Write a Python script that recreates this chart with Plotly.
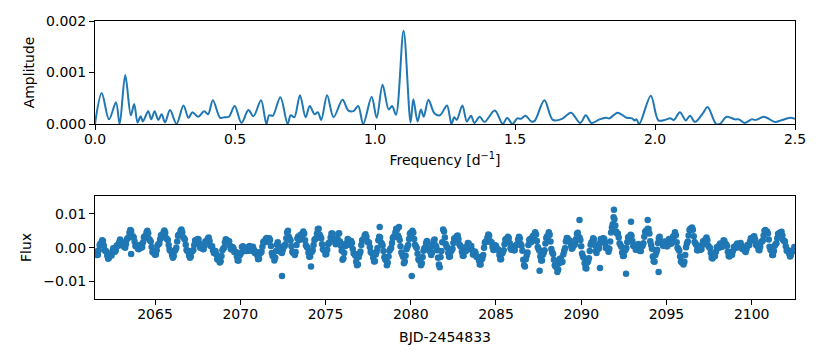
import numpy as np
import plotly.graph_objects as go

# ---------------- periodogram (frequency in 1/d, amplitude) ----------------
freq = [0.000, 0.024, 0.050, 0.075, 0.088, 0.108, 0.128, 0.140, 0.152, 0.163,
        0.171, 0.190, 0.201, 0.213, 0.226, 0.238, 0.250, 0.268, 0.291, 0.316,
        0.334, 0.348, 0.368, 0.390, 0.404, 0.421, 0.447, 0.462, 0.478, 0.499,
        0.523, 0.548, 0.566, 0.593, 0.612, 0.622, 0.635, 0.662, 0.688, 0.699,
        0.712, 0.732, 0.752, 0.767, 0.784, 0.796, 0.808, 0.829, 0.852, 0.884,
        0.905, 0.923, 0.940, 0.958, 0.988, 1.006, 1.027, 1.049, 1.061, 1.075,
        1.102, 1.127, 1.137, 1.152, 1.164, 1.174, 1.191, 1.212, 1.232, 1.257,
        1.273, 1.283, 1.292, 1.312, 1.328, 1.343, 1.355, 1.374, 1.391, 1.428,
        1.456, 1.472, 1.491, 1.508, 1.520, 1.538, 1.558, 1.570, 1.605, 1.635,
        1.668, 1.700, 1.733, 1.753, 1.773, 1.802, 1.825, 1.838, 1.866, 1.899,
        1.918, 1.927, 1.934, 1.944, 1.985, 2.012, 2.036, 2.054, 2.068, 2.089,
        2.110, 2.125, 2.143, 2.170, 2.188, 2.218, 2.232, 2.256, 2.286, 2.300,
        2.320, 2.345, 2.360, 2.389, 2.429, 2.450, 2.482, 2.500]
amplitude = [0.0, 0.00060, 0.00009, 0.00042, 0.0, 0.00095, 0.00017, 0.00039, 0.00003, 0.00015,
             0.00005, 0.00025, 0.00009, 0.00025, 0.00008, 0.00019, 0.00003, 0.00027, 0.0, 0.00036,
             0.00012, 0.00023, 0.00014, 0.00025, 0.00019, 0.00046, 0.00012, 0.00013, 0.00014, 0.00035,
             0.00002, 0.00027, 0.00015, 0.00046, 0.0, 0.00017, 0.00016, 0.00052, 0.0, 0.00017,
             0.00013, 0.00056, 0.00013, 0.00035, 0.00019, 0.00023, 0.00008, 0.00056, 0.00013, 0.00047,
             0.00026, 0.00025, 0.00035, 0.0, 0.00053, 0.00012, 0.00076, 0.00028, 0.00035, 0.00018,
             0.00181, 0.00003, 0.00048, 0.00005, 0.00028, 0.00014, 0.00047, 0.00021, 0.00017, 0.00036,
             0.0, 0.00013, 0.00008, 0.00036, 0.00005, 0.00016, 0.00002, 0.00014, 0.00004, 0.00026,
             0.0, 0.00012, 0.0, 0.00011, 0.00010, 0.00016, 0.00005, 0.00006, 0.00046, 0.00008,
             0.00010, 0.00022, 0.00002, 0.00017, 0.00002, 0.00009, 0.00012, 0.00011, 0.00022, 0.00012,
             0.00011, 0.00007, 0.00009, 0.0, 0.00055, 0.00007, 0.00008, 0.00011, 0.00008, 0.00023,
             0.00007, 0.00016, 0.00004, 0.00020, 0.00033, 0.0, 0.0, 0.00014, 0.00009, 0.00009,
             0.00002, 0.00009, 0.00008, 0.00014, 0.00004, 0.00007, 0.00012, 0.00010]

# ---------------- light curve (flux in units of 1e-3) ----------------
# series 1 sampled every 0.1 d from t_start; series 2 sampled every 0.1 d from t_start + 0.05
t_start = 2061.5
cadence = 0.1
half_offset = 0.05

flux_a = [-1.5, -2.2, -0.8, 1.2, 2.2, 0.6, -1.0, -2.4, -3.0, -2.2,
          -1.2, -0.3, -0.8, 0.8, 1.6, 1.9, 0.9, 0.2, 1.1, 2.8,
          4.4, 4.9, 3.3, 1.8, 0.4, -0.3, 0.5, 0.0, 1.6, 3.4,
          4.5, 4.3, 2.2, 0.2, -1.5, -2.1, -0.8, 1.0, 2.5, 3.7,
          4.6, 4.4, 2.6, 0.8, -0.9, -2.2, -2.5, -0.6, 1.8, 3.9]
flux_b = [5.0, 4.6, 2.8, 0.9, -1.0, -2.3, -2.6, -1.0, 0.8, 2.2,
          2.6, 1.2, 0.0, -0.4, 0.6, 1.8, 2.7, 2.0, 0.4, -0.8,
          -1.2, -2.0, -3.6, -4.4, -2.5, -0.3, 1.5, 2.3, 1.9, 0.6,
          -0.5, -0.2, -1.3, -2.6, -3.8, -2.0, 0.2, -0.6, -0.2, -1.0,
          0.3, -0.5, -0.1, -0.6, -1.4, -2.4, -3.3, -1.4, 0.3, 1.9]
flux_c = [2.6, 2.0, 2.8, 0.5, -2.5, -3.8, -1.0, 1.6, 0.2, -1.4,
          -0.6, 0.4, 2.8, 5.0, 2.6, 0.4, -1.6, -2.2, 0.8, 3.3,
          2.4, 4.0, 4.8, 2.2, 0.3, -1.5, -2.6, -1.2, 0.8, 2.6,
          4.2, 5.6, 3.4, 1.0, -0.8, -2.0, -0.6, 1.4, 3.0, 4.2,
          2.4, 1.0, 2.8, 4.3, 0.6, -3.6, -1.6, 1.2, 2.6, 0.9]
flux_d = [2.0, -0.4, -1.8, -4.2, -5.0, -1.8, 0.8, 2.4, 3.6, 3.2,
          1.6, 0.2, -1.5, -3.0, -4.0, -1.2, 2.2, 3.0, 1.2, -1.0,
          -3.4, -5.2, -2.6, -0.4, 1.4, 3.2, 4.6, 5.4, 3.0, 0.4,
          -2.0, -4.6, -2.4, 0.2, 2.6, 4.4, 5.0, 2.6, 0.4, -1.8,
          -3.8, -5.2, -2.8, -0.2, 1.4, 1.4, -1.0, -2.2, 0.6, 2.4]
flux_e = [0.2, -3.0, -5.8, -1.0, 5.4, 3.0, 0.4, -1.6, -2.6, -0.8,
          1.4, 2.8, 3.4, 2.6, 0.6, -1.2, -2.4, -1.0, 0.4, 1.2,
          0.6, -0.8, -2.0, -1.4, -2.8, -3.8, -5.0, -3.2, 0.0, 1.8,
          3.0, 3.6, 1.6, 0.2, -0.4, 0.6, -0.4, -2.2, -3.4, -1.4,
          1.0, 2.6, 3.2, 1.4, -0.6, 0.4, -0.8, 0.8, 2.4, 2.8]
flux_f = [0.6, -3.6, -5.6, -2.4, 0.8, 2.6, 1.8, 3.6, 4.6, 2.0,
          -0.4, -2.6, -3.8, -1.6, 1.2, 3.4, 4.6, 1.8, -1.4, -3.6,
          -5.6, -7.2, -4.6, -3.2, -4.2, -1.0, 1.8, 2.8, 2.2, 0.6,
          0.0, 0.8, 2.6, 4.4, 3.0, 0.4, -2.6, -4.6, -6.2, -4.0,
          -1.0, 1.6, 2.8, 0.8, -1.6, -0.4, 1.4, 2.6, 2.8, 1.2]
flux_g = [-0.2, -1.2, 1.8, 6.0, 9.0, 6.6, 4.2, 3.0, 0.8, -1.4,
          -2.4, -0.6, 1.6, 3.2, 3.8, 2.0, 0.4, -0.6, 0.8, 0.2,
          -1.0, 0.6, 3.2, 5.0, 5.6, 4.2, 0.8, -2.6, -4.2, -1.4,
          1.4, 3.2, 1.6, 0.6, 1.8, 0.4, 1.6, 2.4, 1.2, 3.4,
          4.6, 1.6, -0.4, -2.6, -4.4, -5.0, -2.2, 1.2, 3.6, 5.6]
flux_h = [6.0, 3.4, 1.2, -0.8, 0.4, -0.6, 0.8, 1.8, 2.6, 2.2,
          0.2, -1.6, -3.2, -2.6, -1.2, 0.2, 0.8, 0.4, 1.2, 2.0,
          1.0, -1.2, -2.6, -2.0, -1.0, 0.2, 0.8, 0.4, 1.0, 0.6,
          -0.2, -1.0, -0.4, 0.8, 1.8, 2.6, 3.2, 2.4, 0.6, -0.6,
          0.2, 1.8, 3.6, 5.2, 4.8, 2.4, -0.6, -2.2, -1.0, 1.0,
          2.8, 4.2, 4.6, 3.6, 2.0, 0.4, -1.0, -1.8, -2.2, -1.0, 0.2]

flux2_a = [-1.2, -2.1, 0.8, 1.1, 2.0, -0.8, -1.1, -3.3, -2.0, -2.3,
           -0.2, -1.2, 0.6, 0.6, 2.4, 0.8, 1.2, 0.0, 2.5, 3.0,
           5.2, 3.5, 3.1, 0.5, 0.6, -0.5, 0.9, 0.2, 3.1, 3.4,
           5.0, 2.6, 1.8, -1.3, -1.2, -2.0, 0.7, 1.2, 3.7, 3.6,
           5.1, 2.9, 2.3, -0.6, -1.0, -3.0, -1.0, 0.0, 3.5, 3.8]
flux2_b = [5.4, 3.1, 2.4, -0.7, -1.0, -3.0, -1.2, -0.7, 2.1, 1.8,
           2.5, 0.0, 0.4, -0.5, 1.8, 1.6, 3.0, 0.6, 0.4, -1.6,
           -1.0, -3.4, -3.4, -4.0, -0.8, 0.0, 2.5, 1.5, 1.9, -0.5,
           0.2, -1.3, -1.3, -3.8, -2.3, -1.5, 0.4, -1.0, 0.0, -0.9,
           0.5, -0.9, 0.3, -1.6, -1.3, -3.4, -1.8, -1.2, 1.7, 1.6]
flux2_c = [2.9, 1.8, 2.3, -1.6, -2.6, -3.0, 0.9, 0.3, 0.0, -1.6,
           0.5, 1.0, 4.5, 3.2, 2.1, -1.2, -1.3, -1.3, 2.7, 2.3,
           3.8, 3.8, 4.1, 0.7, 0.0, -2.7, -1.3, -0.8, 2.3, 2.8,
           5.5, 3.9, 2.8, -0.5, -0.8, -1.9, 1.0, 1.6, 4.2, 2.7,
           2.3, 1.3, 4.1, 1.8, -0.9, -3.2, 0.4, 1.3, 2.3, 0.8]
flux2_d = [1.4, -1.7, -2.4, -5.2, -2.8, -1.1, 2.2, 2.4, 4.0, 1.8,
           1.5, -1.3, -1.7, -4.1, -2.0, -0.1, 3.2, 1.5, 0.7, -2.8,
           -3.7, -4.5, -0.9, -0.1, 2.9, 3.3, 5.6, 3.6, 2.3, -1.4,
           -2.7, -4.1, -0.5, 0.8, 4.1, 4.1, 4.4, 0.9, -0.1, -3.4,
           -3.9, -4.6, -0.9, 0.0, 2.0, -0.4, -1.0, -1.4, 2.1, 0.7]
flux2_e = [-0.8, -5.0, -2.8, 1.6, 4.8, 1.1, 0.0, -2.7, -1.1, -0.3,
           2.7, 2.5, 3.6, 1.0, 0.3, -2.4, -1.1, -0.9, 1.4, 0.3,
           0.5, -2.0, -1.1, -2.7, -2.7, -5.0, -3.5, -2.2, 1.5, 1.8,
           3.9, 2.0, 1.5, -0.7, 0.7, -0.5, -0.7, -3.4, -1.8, -0.8,
           2.4, 2.3, 2.9, -0.2, 0.5, -0.8, 0.6, 1.0, 3.2, 1.1]
flux2_f = [-0.9, -5.2, -3.4, -1.4, 2.3, 1.6, 3.3, 3.5, 3.9, 0.2,
           -0.9, -3.8, -2.1, -0.8, 2.9, 3.4, 3.8, -0.4, -1.9, -5.2,
           -5.8, -6.5, -3.3, -4.3, -2.0, -0.2, 2.9, 1.9, 2.0, -0.3,
           1.0, 1.1, 4.1, 3.1, 2.3, -1.7, -3.0, -6.0, -4.5, -3.1,
           0.9, 1.6, 2.4, -1.0, -0.4, -0.1, 2.6, 2.1, 2.6, -0.1]
flux2_g = [-0.1, -0.3, 4.5, 6.9, 8.4, 4.8, 4.2, 1.3, 0.3, -2.5,
           -0.9, -0.1, 3.0, 2.9, 3.5, 0.6, 0.5, -0.5, 1.1, -1.0,
           0.4, 1.3, 4.7, 4.7, 5.5, 1.9, -0.3, -4.0, -2.2, -0.6,
           2.9, 1.8, 1.7, 0.6, 1.7, 0.4, 2.6, 1.2, 2.9, 3.4,
           3.7, 0.0, -0.9, -4.1, -4.1, -4.2, 0.1, 1.8, 5.2, 5.2]
flux2_h = [5.3, 1.7, 0.8, -0.8, 0.5, -0.5, 1.9, 1.6, 3.0, 0.6,
           -0.1, -3.0, -2.3, -2.5, 0.1, -0.1, 1.2, 0.2, 2.2, 0.9,
           0.5, -2.5, -1.7, -2.1, 0.2, -0.1, 1.2, 0.1, 1.4, -0.4,
           0.0, -1.3, 0.8, 0.7, 2.8, 2.3, 3.4, 0.9, 0.6, -0.8,
           1.6, 2.1, 5.0, 4.4, 4.2, 0.3, -0.8, -2.2, 0.6, 1.3,
           4.1, 3.8, 4.7, 2.2, 1.8, -0.9, -0.8, -2.6, -1.0, -1.0]

# isolated points (time, flux in 1e-3)
outlier_time = [2063.60, 2072.45, 2074.15, 2078.18, 2079.31, 2080.06, 2087.56,
                2089.90, 2091.10, 2091.92, 2092.63, 2092.92, 2093.90, 2094.54]
outlier_flux = [-1.9, -8.4, -5.6, 6.1, 6.1, -8.4, -6.8,
                8.2, -6.0, 11.2, -7.7, 7.7, 8.2, -7.2]

freq_ticks = [0.0, 0.5, 1.0, 1.5, 2.0, 2.5]
amp_ticks = [0.000, 0.001, 0.002]
time_ticks = [2065, 2070, 2075, 2080, 2085, 2090, 2095, 2100]
flux_ticks = [-0.01, 0.0, 0.01]
flux_tick_labels = ["\u22120.01", "0.00", "0.01"]

# ---------------- build ----------------
flux1 = np.array(flux_a + flux_b + flux_c + flux_d + flux_e + flux_f + flux_g + flux_h) * 1e-3
time1 = t_start + cadence * np.arange(len(flux1))
flux2 = np.array(flux2_a + flux2_b + flux2_c + flux2_d + flux2_e + flux2_f + flux2_g + flux2_h) * 1e-3
time2 = t_start + half_offset + cadence * np.arange(len(flux2))
time_pts = np.concatenate([time1, time2, np.array(outlier_time)])
flux_pts = np.concatenate([flux1, flux2, np.array(outlier_flux) * 1e-3])
order = np.argsort(time_pts)
time_pts, flux_pts = time_pts[order], flux_pts[order]

BLUE = "#1f77b4"
FONT = "DejaVu Sans"
FS = 14

fig = go.Figure()
fig.add_trace(go.Scatter(x=freq, y=amplitude, mode="lines",
                         line=dict(color=BLUE, width=2, shape="spline", smoothing=0.9),
                         xaxis="x", yaxis="y", showlegend=False, hoverinfo="skip"))
fig.add_trace(go.Scatter(x=time_pts, y=flux_pts, mode="markers",
                         marker=dict(color=BLUE, size=6.5, line=dict(width=0)),
                         xaxis="x2", yaxis="y2", showlegend=False, hoverinfo="skip"))

# the page body adds an 8px margin, so the figure is drawn 8px smaller/offset
W, H = 814, 352
ML, MR, MT, MB = 87, 27, 13, 61
PH = H - MT - MB  # 278
axis_common = dict(showline=True, mirror=True, linecolor="black", linewidth=1, ticks="outside",
                   ticklen=5, tickwidth=1, tickcolor="black", showgrid=False, zeroline=False,
                   automargin=False, tickfont=dict(family=FONT, size=FS, color="black"))
title_font = dict(family=FONT, size=FS, color="black")

fig.update_layout(
    width=W, height=H, margin=dict(l=ML, r=MR, t=MT, b=MB, autoexpand=False),
    paper_bgcolor="white", plot_bgcolor="white",
    font=dict(family=FONT, size=FS, color="black"),
    xaxis=dict(domain=[0, 1], range=[0, 2.5], tickvals=freq_ticks, tickformat=".1f",
               ticklabelstandoff=-3,
               title=dict(text="Frequency [d<sup>\u22121</sup>]", standoff=9, font=title_font),
               anchor="y", **axis_common),
    yaxis=dict(domain=[(278 - 103) / PH, 1], range=[0, 0.002], tickvals=amp_ticks, tickformat=".3f",
               title=dict(text="Amplitude", standoff=8, font=title_font),
               anchor="x", **axis_common),
    xaxis2=dict(domain=[0, 1], range=[2061.48, 2102.54], tickvals=time_ticks,
                ticklabelstandoff=-3,
                title=dict(text="BJD-2454833", standoff=11, font=title_font),
                anchor="y2", **axis_common),
    yaxis2=dict(domain=[0, 103 / PH], range=[-0.0152, 0.0153], tickvals=flux_ticks,
                ticktext=flux_tick_labels,
                title=dict(text="Flux", standoff=8, font=title_font),
                anchor="x2", **axis_common),
)

fig.write_html("out.html")
